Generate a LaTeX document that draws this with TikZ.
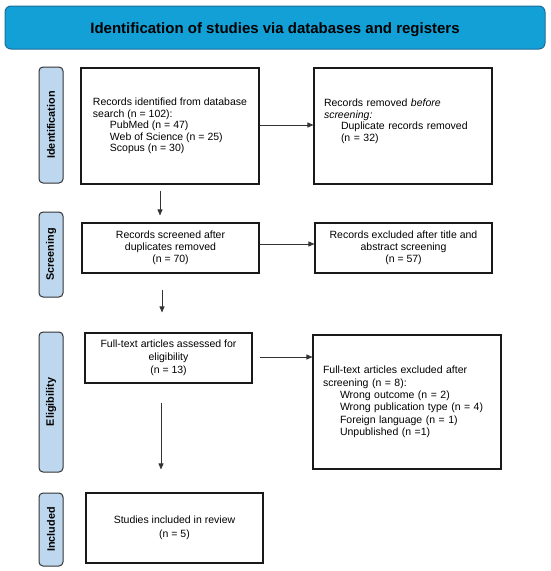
\documentclass[tikz,border=0pt]{standalone}
\usepackage{fontspec}
\setmainfont{Liberation Sans}
\usetikzlibrary{arrows.meta}
\definecolor{headfill}{HTML}{12A0D7}
\definecolor{headdraw}{HTML}{1C6E99}
\definecolor{sidefill}{HTML}{BDD7EE}
\definecolor{linecol}{HTML}{333333}
\tikzset{
  boxl/.style={draw=black!90, line width=1.1pt, fill=white, align=left, inner xsep=10pt, inner ysep=0pt,
    font=\fontsize{10.5}{12.4}\selectfont},
  boxc/.style={draw=black!90, line width=1.1pt, fill=white, align=center, inner sep=0pt,
    font=\fontsize{10.5}{12.2}\selectfont},
  side/.style={draw=linecol, line width=1pt, fill=sidefill, rounded corners=4pt, minimum width=24pt,
    inner sep=0pt},
  sidetext/.style={rotate=90, font=\bfseries\fontsize{10.8}{12.4}\selectfont, inner sep=0pt},
  arr/.style={draw=linecol, line width=0.8pt, -{Triangle[length=6pt,width=5pt]}},
}
\newcommand{\ind}{\hspace*{17pt}}
\begin{document}
\begin{tikzpicture}[x=1pt,y=-1pt]
\useasboundingbox (0,0) rectangle (550,571);
% header
\node[draw=headdraw, line width=1pt, fill=headfill, rounded corners=6pt, minimum width=540pt, minimum height=43pt,
  inner sep=0pt] (head) at (275,27.5) {};
\node[inner sep=0pt, font=\bfseries\fontsize{15}{18}\selectfont] (headt) at ([yshift=-2.5pt]head.center) {Identification of studies via databases and registers};
% side labels
\node[side, minimum height=116pt] (sid) at (51,125) {};
\node[sidetext] (tid) at (sid.center) {Identification};
\node[side, minimum height=85pt] (sscr) at (51,254.5) {};
\node[sidetext] (tscr) at (sscr.center) {Screening};
\node[side, minimum height=140pt] (selig) at (51,402) {};
\node[sidetext] (telig) at (selig.center) {Eligibility};
\node[side, minimum height=73pt] (sinc) at (51,529.5) {};
\node[sidetext] (tinc) at (sinc.center) {Included};
% boxes
\node[boxl, minimum width=178pt, minimum height=116pt, font=\fontsize{10.5}{11.6}\selectfont] (b1) at (170,126)
  {Records identified from database\\search (n = 102):\\\ind PubMed (n = 47)\\\ind Web of Science (n = 25)\\\ind Scopus (n = 30)};
\node[boxl, text width=158pt, minimum height=116pt, font=\fontsize{10.5}{11.6}\selectfont] (b2) at (403,126)
  {Records removed \textit{before}\\\textit{screening:}\\\ind Duplicate records removed\\\ind (n = 32)\\\mbox{}};
\node[boxc, minimum width=177pt, minimum height=50pt] (b3) at (170.5,248)
  {Records screened after\\duplicates removed\\(n = 70)};
\node[boxc, minimum width=177pt, minimum height=50pt] (b4) at (403.5,248)
  {Records excluded after title and\\abstract screening\\(n = 57)};
\node[boxc, minimum width=167pt, minimum height=50pt, font=\fontsize{10.5}{13}\selectfont] (b5) at (168.5,358)
  {Full-text articles assessed for\\eligibility\\(n = 13)};
\node[boxl, text width=168pt, minimum height=134pt] (b6) at (407,402)
  {Full-text articles excluded after\\screening (n = 8):\\\ind Wrong outcome (n = 2)\\\ind Wrong publication type (n = 4)\\\ind Foreign language (n = 1)\\\ind Unpublished (n =1)};
\node[boxc, minimum width=177pt, minimum height=70pt, font=\fontsize{10.5}{14}\selectfont] (b7) at (174.5,528)
  {Studies included in review\\(n = 5)};
% connectors
\coordinate (xa) at (160,0);
\coordinate (xb) at (162,0);
\coordinate (xc) at (161,0);
\draw[arr] (b1.east |- 0,125) -- (b2.west |- 0,125);
\draw[arr] (b3.east |- 0,244) -- (b4.west |- 0,244);
\draw[arr, shorten <=7pt] (b5.east |- 0,357) -- (b6.west |- 0,357);
\draw[arr, shorten <=6pt, shorten >=7pt] (b1.south -| xa) -- (b3.north -| xa);
\draw[arr, shorten <=16pt, shorten >=20pt] (b3.south -| xb) -- (b5.north -| xb);
\draw[arr, shorten <=19pt, shorten >=23pt] (b5.south -| xc) -- (b7.north -| xc);
\end{tikzpicture}
\end{document}
